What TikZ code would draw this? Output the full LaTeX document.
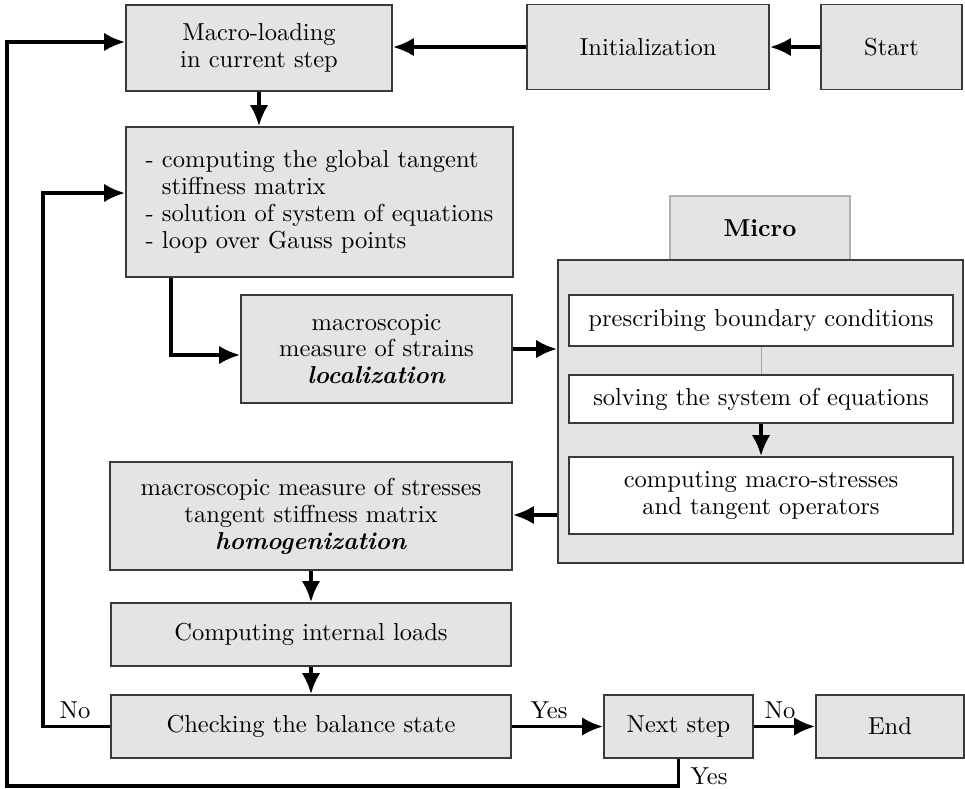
\documentclass[tikz,border=0pt]{standalone}
\usepackage{tikz}
\usetikzlibrary{arrows.meta, calc, positioning}
\definecolor{boxGray}{HTML}{E4E4E4}
\definecolor{edgeGray}{HTML}{3A3A3A}

\begin{document}
\begin{tikzpicture}[x=0.408pt, y=-0.408pt,
    block/.style={draw=edgeGray, line width=0.8pt, fill=boxGray, inner sep=0pt,
      align=center, font=\fontsize{10}{11}\selectfont},
    subblock/.style={block, fill=white},
    boxsize/.style 2 args={minimum width=#1*0.408pt, minimum height=#2*0.408pt},
    flow/.style={line width=1.4pt, -{Latex[length=8.5pt, width=7.5pt]}},
    tag/.style={inner sep=0pt, font=\fontsize{10}{11}\selectfont}]
  \useasboundingbox (0,0) rectangle (965,788);

  % ------------------------
  % macro level
  % ------------------------

  \node[block, boxsize={266}{86}] (macro) at (259, 48) {Macro-loading\\in current step};
  \node[block, boxsize={242}{85}] (init) at (648, 47) {Initialization};
  \node[block, boxsize={141}{85}] (start) at (891.5, 47) {Start};

  \node[block, boxsize={387}{150}, align=left] (compute) at (319.5, 202)
    {- computing the global tangent\\\phantom{- }stiffness matrix\\- solution of system of equations\\- loop over Gauss points};

  \node[block, boxsize={271}{108}] (loc) at (376.5, 349)
    {macroscopic\\measure of strains\\\textbf{\textit{localization}}};

  \node[block, boxsize={402}{108}] (homog) at (311, 516)
    {macroscopic measure of stresses\\tangent stiffness matrix\\\textbf{\textit{homogenization}}};

  \node[block, boxsize={400}{63}] (internal) at (311, 634.5) {Computing internal loads};
  \node[block, boxsize={400}{63}] (check) at (311, 726.5) {Checking the balance state};
  \node[block, boxsize={149}{63}] (next) at (678.5, 726.5) {Next step};
  \node[block, boxsize={148}{63}] (end) at (890, 726.5) {End};

  % ------------------------
  % micro level
  % ------------------------

  \node[block, draw=gray!60, line width=0.5pt, boxsize={180}{64}] (microTab) at (760, 228) {\textbf{Micro}};
  \node[block, boxsize={405}{303}] (micro) at (760.5, 411.5) {};

  \node[subblock, boxsize={384}{51}] (bc) at (761, 320.5) {prescribing boundary conditions};
  \node[subblock, boxsize={384}{48}] (solve) at (761, 399) {solving the system of equations};
  \node[subblock, boxsize={384}{77}] (stress) at (761, 495.5)
    {computing macro-stresses\\and tangent operators};

  \draw[gray!70, line width=0.4pt] (bc) -- (solve);
  \draw[flow] (solve) -- (stress);

  % ------------------------
  % connectors
  % ------------------------

  \coordinate (loopTop) at (7, 42);
  \coordinate (loopOut) at (7, 786);
  \coordinate (loopIn) at (43, 193);
  \coordinate (c2l) at (171, 355);
  \coordinate (m2h) at (558, 515);

  \draw[flow] (start) -- (init);
  \draw[flow] (init.west) -- (macro.east |- init.west);
  \draw[flow] (macro) -- (macro |- compute.north);
  \draw[flow] (compute.south -| c2l) -- (c2l) -- (loc.west |- c2l);
  \draw[flow] (loc.east) -- (micro.west |- loc.east);
  \draw[flow] (micro.west |- m2h) -- (homog.east |- m2h);
  \draw[flow] (homog) -- (internal);
  \draw[flow] (internal) -- (check);
  \draw[flow] (check) -- (next);
  \draw[flow] (next) -- (end);
  \draw[flow] (check.west) -| (loopIn) -- (compute.west |- loopIn);
  \draw[flow] (next.south) |- (loopOut) -- (loopTop) -- (macro.west |- loopTop);

  \node[tag] (noLoop) at (75, 710) {No};
  \node[tag] (yesNext) at (549, 710) {Yes};
  \node[tag] (noEnd) at (780, 710) {No};
  \node[tag] (yesLoop) at (709, 776) {Yes};
\end{tikzpicture}
\end{document}
